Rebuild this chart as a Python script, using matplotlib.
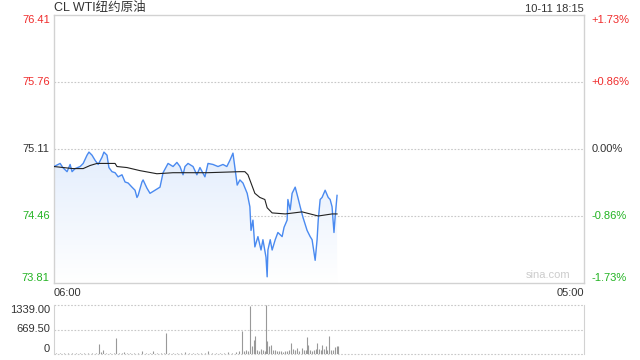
import matplotlib
matplotlib.use("Agg")
import matplotlib.pyplot as plt
import numpy as np

plt.rcParams['font.family'] = ['Liberation Sans', 'Noto Sans CJK SC', 'DejaVu Sans']

title = "CL WTI纽约原油"
stamp = "10-11 18:15"
prev_close = 75.11
price_ticks = [76.41, 75.76, 75.11, 74.46, 73.81]
pct_ticks = ["+1.73%", "+0.86%", "0.00%", "-0.86%", "-1.73%"]
x_labels = ["06:00", "05:00"]
vol_ticks = [1339.00, 669.50, 0]

# minutes after 06:00
t_price = [0, 16, 23, 34, 42, 47, 55, 68, 76, 86, 91, 99, 107, 115, 125, 130, 138, 143,
           151, 159, 167, 177, 185, 193, 203, 211, 216, 219, 229, 232, 242, 250, 263, 276,
           284, 297, 310, 320, 328, 336, 341, 349, 362, 372, 380, 393, 401, 414, 427, 440,
           450, 458, 466, 471, 477, 484, 492, 503, 510, 513, 518, 523, 531, 539, 544, 552,
           555, 557, 563, 568, 576, 583, 594, 599, 607, 609, 615, 620, 628, 635, 641, 648,
           659, 667, 672, 680, 685, 688, 693, 698, 706, 714, 719, 724, 729, 732, 737]
price = [74.94, 74.97, 74.93, 74.89, 74.96, 74.89, 74.92, 74.94, 74.97, 75.05,
         75.08, 75.05, 75.00, 74.96, 75.03, 75.08, 75.05, 74.93, 74.89, 74.88,
         74.84, 74.86, 74.79, 74.78, 74.74, 74.71, 74.64, 74.66, 74.79, 74.81,
         74.73, 74.68, 74.71, 74.74, 74.88, 74.97, 74.94, 74.98, 74.94, 74.86,
         74.94, 74.97, 74.94, 74.86, 74.93, 74.84, 74.97, 74.96, 74.94, 74.96,
         74.94, 75.00, 75.07, 74.93, 74.76, 74.81, 74.78, 74.68, 74.55, 74.32,
         74.42, 74.16, 74.26, 74.13, 74.23, 74.06, 73.87, 74.13, 74.23, 74.13,
         74.23, 74.30, 74.26, 74.35, 74.42, 74.62, 74.52, 74.68, 74.74, 74.64,
         74.55, 74.45, 74.32, 74.26, 74.23, 74.03, 74.23, 74.42, 74.62, 74.64,
         74.71, 74.64, 74.62, 74.55, 74.30, 74.45, 74.66]

t_avg = [0, 49, 76, 94, 112, 138, 159, 164, 190, 224, 268, 310, 399, 484, 497, 505, 513,
         523, 536, 549, 555, 568, 602, 646, 688, 724, 737]
avg = [74.94, 74.92, 74.92, 74.95, 74.97, 74.97, 74.97, 74.94, 74.93, 74.90, 74.87, 74.88,
       74.88, 74.89, 74.89, 74.86, 74.78, 74.68, 74.64, 74.62, 74.54, 74.49, 74.48, 74.50,
       74.46, 74.48, 74.48]

t_vol = [5, 16, 26, 36, 47, 57, 68, 78, 89, 99, 109, 117, 122, 128, 135, 146, 156, 161, 169,
         177, 182, 190, 198, 208, 219, 229, 240, 250, 258, 268, 279, 286, 292, 299, 310, 320,
         331, 341, 352, 362, 372, 383, 393, 401, 411, 422, 432, 443, 453, 464, 474, 482, 490,
         495, 500, 505, 510, 516, 521, 523, 529, 534, 539, 544, 549, 552, 555, 560, 565, 570,
         575, 581, 586, 591, 596, 602, 607, 612, 617, 622, 628, 633, 638, 646, 651, 656, 659,
         661, 667, 672, 677, 682, 685, 690, 695, 698, 703, 708, 711, 716, 721, 727, 732, 737, 740]
vol = [20, 15, 25, 20, 15, 20, 25, 15, 20, 25, 30, 270, 60, 110, 40, 25, 30, 440, 30,
       25, 60, 30, 25, 20, 30, 80, 25, 30, 80, 30, 25, 30, 570, 25, 30, 20,
       35, 50, 30, 25, 30, 35, 40, 80, 35, 30, 40, 30, 50, 40, 60, 70, 630,
       80, 120, 90, 1300, 230, 380, 480, 120, 90, 150, 110, 90, 1339, 360, 220, 240, 100,
       120, 80, 90, 70, 60, 80, 90, 120, 300, 140, 110, 170, 90, 170, 100, 120, 460,
       250, 120, 90, 100, 130, 300, 140, 110, 240, 150, 210, 110, 490, 120, 100, 190, 220, 230]

red = '#f02c2c'
green = '#22b322'
dark = '#333333'
frame = '#d2d2d2'

fig = plt.figure(figsize=(6.4, 3.6), dpi=100)
ax = fig.add_axes([54/640, 1-283/360, 530/640, 268/360])
ax2 = fig.add_axes([54/640, 1-354/360, 530/640, 49/360])

# price panel
fill = ax.fill_between(t_price, price, 73.81, color='none', lw=0)
grad = np.linspace(0, 1, 256).reshape(-1, 1)
cols = np.zeros((256, 1, 4))
cols[..., 0] = 0.89 + 0.11 * grad
cols[..., 1] = 0.93 + 0.07 * grad
cols[..., 2] = 0.99 + 0.01 * grad
cols[..., 3] = 1
img = ax.imshow(cols, extent=[0, 1380, 73.81, 75.11], aspect='auto', origin='upper', zorder=1)
img.set_clip_path(fill.get_paths()[0], transform=ax.transData)
ax.set_xlim(0, 1380)
ax.set_ylim(73.81, 76.41)
for v in price_ticks[1:4]:
    ax.axhline(v, color='#c8c8c8', lw=0.8, ls=(0, (1.5, 1.5)), zorder=0)
ax.plot(t_price, price, color='#4a8af0', lw=1.0, zorder=3)
ax.plot(t_avg, avg, color='#222222', lw=0.8, zorder=4)
ax.set_xticks([])
ax.set_yticks([])
for s in ax.spines.values():
    s.set_color(frame)
    s.set_linewidth(1)

lab_col = [red, red, dark, green, green]
vas = ['top', 'center', 'center', 'center', 'bottom']
for v, p, c, va in zip(price_ticks, pct_ticks, lab_col, vas):
    ax.text(-0.008, v, f"{v:.2f}", transform=ax.get_yaxis_transform(), ha='right', va=va,
            color=c, fontsize=8)
    ax.text(1.014, v, p, transform=ax.get_yaxis_transform(), ha='left', va=va,
            color=c, fontsize=8)

ax.text(0, 1.005, title, transform=ax.transAxes, ha='left', va='bottom', fontsize=9, color=dark)
ax.text(1, 1.005, stamp, transform=ax.transAxes, ha='right', va='bottom', fontsize=8, color=dark)
ax.text(0.975, 0.01, "sina.com", transform=ax.transAxes, ha='right', va='bottom',
        fontsize=8, color='#cccccc')
ax.text(0, -0.02, x_labels[0], transform=ax.transAxes, ha='left', va='top', fontsize=8, color=dark)
ax.text(1, -0.02, x_labels[1], transform=ax.transAxes, ha='right', va='top', fontsize=8, color=dark)

# volume panel
ax2.set_xlim(0, 1380)
ax2.set_ylim(0, 1339)
for v in vol_ticks:
    ax2.axhline(v, color='#c8c8c8', lw=0.8, ls=(0, (1.5, 1.5)), zorder=0, clip_on=False)
ax2.vlines(t_vol, 0, vol, color='#999999', lw=0.8)
ax2.set_xticks([])
ax2.set_yticks([])
for k in ['top', 'bottom']:
    ax2.spines[k].set_visible(False)
for k in ['left', 'right']:
    ax2.spines[k].set_color(frame)
vvas = ['top', 'center', 'bottom']
for v, va in zip(vol_ticks, vvas):
    lbl = "0" if v == 0 else f"{v:.2f}"
    ax2.text(-0.008, v, lbl, transform=ax2.get_yaxis_transform(), ha='right', va=va,
             color=dark, fontsize=8)

fig.savefig("out.png", dpi=100, facecolor='white')
